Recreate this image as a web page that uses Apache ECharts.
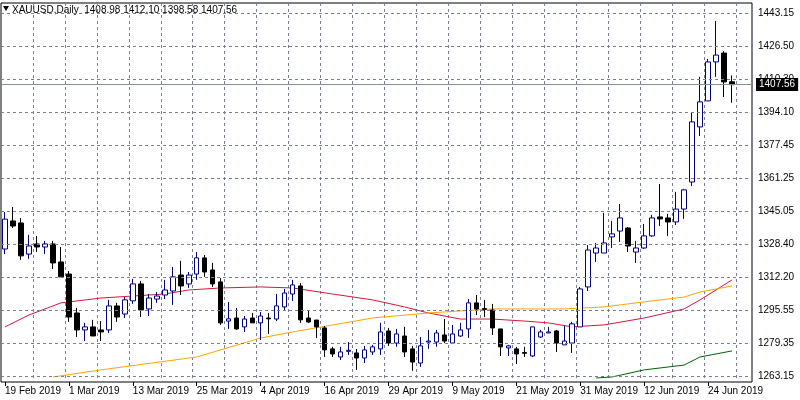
<!DOCTYPE html>
<html><head><meta charset="utf-8">
<script src="https://cdn.jsdelivr.net/npm/echarts@6/dist/echarts.min.js"></script>
<style>html,body{margin:0;padding:0;background:#fff}#c{width:800px;height:400px}</style>
</head><body><div id="c"></div>
<script>
const dates = ["19 Feb 2019","20 Feb 2019","21 Feb 2019","22 Feb 2019","25 Feb 2019","26 Feb 2019","27 Feb 2019","28 Feb 2019",
"1 Mar 2019","4 Mar 2019","5 Mar 2019","6 Mar 2019","7 Mar 2019","8 Mar 2019","11 Mar 2019","12 Mar 2019",
"13 Mar 2019","14 Mar 2019","15 Mar 2019","18 Mar 2019","19 Mar 2019","20 Mar 2019","21 Mar 2019","22 Mar 2019",
"25 Mar 2019","26 Mar 2019","27 Mar 2019","28 Mar 2019","29 Mar 2019","1 Apr 2019","2 Apr 2019","3 Apr 2019",
"4 Apr 2019","5 Apr 2019","8 Apr 2019","9 Apr 2019","10 Apr 2019","11 Apr 2019","12 Apr 2019","15 Apr 2019",
"16 Apr 2019","17 Apr 2019","18 Apr 2019","22 Apr 2019","23 Apr 2019","24 Apr 2019","25 Apr 2019","26 Apr 2019",
"29 Apr 2019","30 Apr 2019","1 May 2019","2 May 2019","3 May 2019","6 May 2019","7 May 2019","8 May 2019",
"9 May 2019","10 May 2019","13 May 2019","14 May 2019","15 May 2019","16 May 2019","17 May 2019","20 May 2019",
"21 May 2019","22 May 2019","23 May 2019","24 May 2019","27 May 2019","28 May 2019","29 May 2019","30 May 2019",
"31 May 2019","3 Jun 2019","4 Jun 2019","5 Jun 2019","6 Jun 2019","7 Jun 2019","10 Jun 2019","11 Jun 2019",
"12 Jun 2019","13 Jun 2019","14 Jun 2019","17 Jun 2019","18 Jun 2019","19 Jun 2019","20 Jun 2019","21 Jun 2019",
"24 Jun 2019","25 Jun 2019","26 Jun 2019","27 Jun 2019","",""];
// [open, close, low, high]
const ohlc = [
[1326.1,1340.9,1323.6,1344.4],[1340.0,1337.5,1336.5,1346.9],[1339.0,1322.7,1320.7,1341.5],[1323.6,1327.6,1321.2,1333.1],
[1328.6,1327.1,1324.6,1332.6],[1327.1,1328.6,1323.6,1330.1],[1328.6,1319.2,1316.2,1330.1],[1319.7,1312.3,1312.3,1327.1],
[1313.7,1292.4,1290.0,1315.2],[1294.4,1286.0,1282.5,1296.9],[1286.0,1287.5,1280.5,1289.5],[1287.5,1283.0,1283.0,1291.0],
[1286.0,1285.0,1280.5,1290.4],[1286.0,1297.9,1284.5,1300.9],[1297.9,1292.4,1290.0,1299.4],[1293.9,1300.9,1291.9,1302.3],
[1300.4,1308.8,1298.9,1311.3],[1308.8,1295.9,1292.4,1310.3],[1296.4,1301.8,1292.9,1303.8],[1301.3,1302.8,1299.4,1304.8],
[1303.3,1305.8,1301.3,1310.8],[1305.3,1312.3,1298.4,1317.2],[1313.2,1307.8,1303.3,1320.2],[1308.8,1313.2,1306.8,1314.7],
[1313.7,1321.7,1310.8,1324.6],[1321.7,1314.7,1312.3,1323.1],[1315.7,1308.8,1307.3,1319.2],[1309.8,1289.5,1288.5,1311.7],
[1290.4,1291.5,1286.5,1299.9],[1291.9,1286.5,1286.0,1296.9],[1287.5,1291.4,1285.0,1292.9],[1291.9,1289.5,1289.5,1294.4],
[1289.5,1292.9,1281.0,1294.9],[1291.9,1291.5,1284.0,1294.4],[1291.4,1297.9,1290.4,1303.8],[1297.4,1304.3,1295.9,1306.3],
[1303.8,1308.3,1300.4,1310.8],[1307.8,1291.0,1289.5,1309.3],[1291.9,1289.9,1289.5,1295.9],[1290.9,1287.5,1282.0,1290.9],
[1287.0,1276.1,1272.6,1288.0],[1276.6,1274.1,1272.6,1277.6],[1272.6,1275.1,1271.1,1277.6],[1275.4,1275.9,1273.6,1280.0],
[1274.6,1272.1,1266.2,1276.6],[1272.1,1276.1,1269.6,1278.1],[1275.1,1277.6,1273.6,1278.6],[1276.6,1285.0,1273.6,1289.5],
[1285.5,1279.5,1278.1,1287.0],[1279.5,1284.0,1277.6,1286.5],[1283.0,1275.1,1272.6,1287.5],[1276.6,1270.1,1265.7,1278.1],
[1269.6,1278.1,1267.7,1282.5],[1280.0,1280.5,1276.6,1286.0],[1280.0,1284.5,1277.6,1286.0],[1283.5,1280.5,1279.5,1291.4],
[1279.5,1284.0,1279.5,1288.5],[1283.0,1286.0,1282.5,1289.5],[1286.5,1299.4,1282.0,1301.3],[1299.4,1296.4,1293.4,1303.3],
[1296.6,1296.2,1292.4,1300.9],[1295.9,1287.0,1283.5,1298.9],[1286.5,1277.6,1273.1,1286.5],[1277.1,1278.1,1273.1,1278.6],
[1276.6,1274.1,1269.1,1277.6],[1274.8,1274.4,1272.6,1277.6],[1273.1,1287.5,1272.6,1287.5],[1282.5,1285.0,1282.0,1286.0],
[1284.5,1285.0,1284.5,1287.5],[1285.5,1279.5,1275.1,1286.0],[1278.6,1280.5,1278.6,1288.0],[1279.5,1289.0,1274.6,1290.0],
[1287.5,1306.3,1287.5,1307.3],[1307.3,1325.6,1305.3,1328.1],[1324.1,1326.6,1319.7,1329.1],[1324.1,1329.1,1324.1,1344.0],
[1332.1,1333.6,1326.6,1340.0],[1335.0,1341.5,1329.6,1348.4],[1336.5,1327.6,1324.6,1337.0],[1324.6,1326.6,1319.2,1330.1],
[1326.6,1332.6,1326.1,1338.5],[1332.6,1341.5,1332.1,1343.0],[1342.0,1341.0,1337.5,1358.3],[1341.5,1339.5,1332.6,1343.5],
[1339.5,1345.9,1338.0,1354.4],[1345.9,1355.4,1341.0,1355.9],[1359.3,1389.1,1357.3,1394.0],[1386.6,1399.0,1382.1,1411.4],
[1399.5,1418.8,1399.5,1420.3],[1418.8,1422.2,1411.4,1439.1],[1423.2,1408.9,1401.4,1424.2],[1408.98,1407.56,1398.58,1412.10]
];
// moving averages read at sample candles: [candle index, value]
const maRed = [[0,1287.5],[3,1293.4],[7,1299.4],[12,1301.8],[16,1302.8],[20,1303.8],[23,1305.8],[27,1306.8],[32,1307.3],[36,1306.8],
[41,1303.8],[46,1300.9],[50,1297.4],[53,1294.4],[57,1291.4],[61,1291.4],[65,1290.4],[68,1289.5],[71,1287.5],[75,1288.5],
[80,1291.9],[85,1296.4],[87,1300.9],[89,1305.8],[91,1310.8]];
const maOrange = [[6,1262.7],[12,1266.2],[24,1272.6],[32,1282.0],[36,1285.0],[46,1291.9],[53,1294.4],[61,1296.4],[70,1296.4],
[75,1297.4],[80,1299.9],[85,1302.3],[87,1304.8],[91,1307.8]];
const maGreen = [[74,1262.2],[76,1262.7],[80,1266.2],[85,1268.6],[87,1272.6],[91,1275.6]];
const priceTicks = [1443.15,1426.50,1410.30,1394.10,1377.45,1361.25,1345.05,1328.40,1312.20,1295.55,1279.35,1263.15];
const title = "XAUUSD,Daily  1408.98 1412.10 1398.58 1407.56";
const lastPrice = 1407.56;

const font = 'Liberation Sans';
const chart = echarts.init(document.getElementById('c'), null, {renderer:'canvas'});
const grid = '#76808f';
chart.setOption({
  animation:false,
  backgroundColor:'#fff',
  grid:{left:1,top:3,width:751,height:379,show:true,borderColor:'#000',borderWidth:1,backgroundColor:'transparent'},
  xAxis:{type:'category',data:dates,boundaryGap:true,
    axisLine:{show:false},
    axisTick:{show:true,interval:(i)=>i%8===0,alignWithLabel:true,length:4,lineStyle:{color:'#000'}},
    axisLabel:{interval:(i)=>i%8===0,color:'#000',fontFamily:font,fontSize:10,align:'left',margin:4},
    splitLine:{show:true,interval:(i)=>i%4===0 && i>0,lineStyle:{color:grid,type:[3,3],width:1}}},
  yAxis:{type:'value',min:1260.2,max:1448.0,position:'right',
    axisLabel:{show:false},axisLine:{show:false},axisTick:{show:false},splitLine:{show:false}},
  graphic:[
    {type:'polygon',shape:{points:[[3,6],[9,6],[6,11]]},style:{fill:'#000'}},
    {type:'text',left:12,top:5,style:{text:title,fontFamily:font,fontSize:10,fill:'#000'}}
  ],
  series:[
    {type:'candlestick',data:ohlc,barWidth:5,
      itemStyle:{color:'#fff',color0:'#000',borderColor:'#000080',borderColor0:'#000',borderWidth:1},
      markLine:{silent:true,symbol:'none',animation:false,
        lineStyle:{color:grid,type:[3,3],width:1},
        label:{position:'end',distance:6,color:'#000',fontFamily:font,fontSize:10,formatter:(p)=>p.value.toFixed(2)},
        data:priceTicks.map(v=>({yAxis:v})).concat([{yAxis:lastPrice,lineStyle:{color:'#8090a0',type:'solid'},
          label:{backgroundColor:'#000',color:'#fff',padding:[2,3,1,3],distance:4,formatter:(p)=>p.value.toFixed(2)}}])}},
    {type:'line',data:maRed,symbol:'none',lineStyle:{color:'#DC143C',width:1},z:1},
    {type:'line',data:maOrange,symbol:'none',lineStyle:{color:'#FFA500',width:1},z:1},
    {type:'line',data:maGreen,symbol:'none',lineStyle:{color:'#006400',width:1},z:1}
  ]
});
</script></body></html>
